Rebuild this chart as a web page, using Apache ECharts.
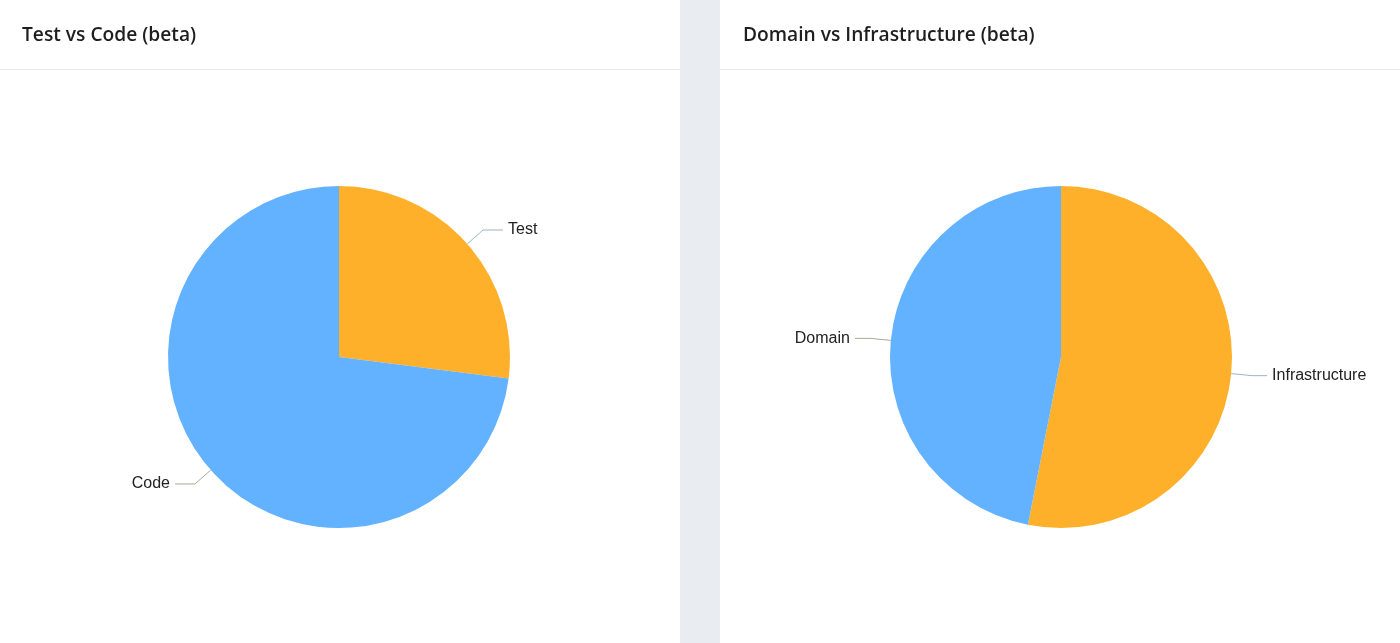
<!DOCTYPE html>
<html><head><meta charset="utf-8">
<style>html,body{margin:0;padding:0;background:#fff;}#c{width:1400px;height:643px;}</style>
<script src="https://cdn.jsdelivr.net/npm/echarts@6/dist/echarts.min.js"></script>
</head><body><div id="c"></div>
<script>
var titles = ['Test vs Code (beta)', 'Domain vs Infrastructure (beta)'];
var leftNames = ['Test', 'Code'];
var leftValues = [27, 73];
var rightNames = ['Infrastructure', 'Domain'];
var rightValues = [53.1, 46.9];
var sliceColors = ['#ffb02a', '#62b2ff'];
var lineColors = ['#9fb2c6', '#aaa992'];
var leftLine2 = [20, 20];
var rightLine2 = [15, 15];

function mk(names, values, l2){
  return names.map(function(n,i){
    return {name:n, value:values[i], itemStyle:{color:sliceColors[i]},
      labelLine:{length2:l2[i], lineStyle:{color:lineColors[i]}}};
  });
}
var chart = echarts.init(document.getElementById('c'), null, {renderer:'canvas'});
var pieCommon = {
  type:'pie', radius:171, startAngle:90, clockwise:true, silent:true,
  label:{color:'#222', fontSize:16, fontFamily:'Liberation Sans, Arial, sans-serif', padding:[0,0,6,0]},
  labelLine:{length:21, length2:18, lineStyle:{width:1}},
  emphasis:{disabled:true}, animation:false
};
var tStyle = {fontFamily:'Open Sans', fontWeight:600, fontSize:19.2, color:'#1e1e1e'};
chart.setOption({
  animation:false,
  title:[
    {text:titles[0], left:22, top:26, padding:0, textStyle:tStyle},
    {text:titles[1], left:743, top:26, padding:0, textStyle:tStyle}
  ],
  graphic:[
    {type:'rect', shape:{x:680, y:0, width:40, height:643}, style:{fill:'#e9edf1'}, silent:true},
    {type:'rect', shape:{x:0, y:69, width:680, height:1}, style:{fill:'#e6eaee'}, silent:true},
    {type:'rect', shape:{x:720, y:69, width:680, height:1}, style:{fill:'#e6eaee'}, silent:true}
  ],
  series:[
    Object.assign({}, pieCommon, {center:[339,357], data:mk(leftNames,leftValues,leftLine2)}),
    Object.assign({}, pieCommon, {center:[1061,357], data:mk(rightNames,rightValues,rightLine2)})
  ]
});
</script></body></html>
